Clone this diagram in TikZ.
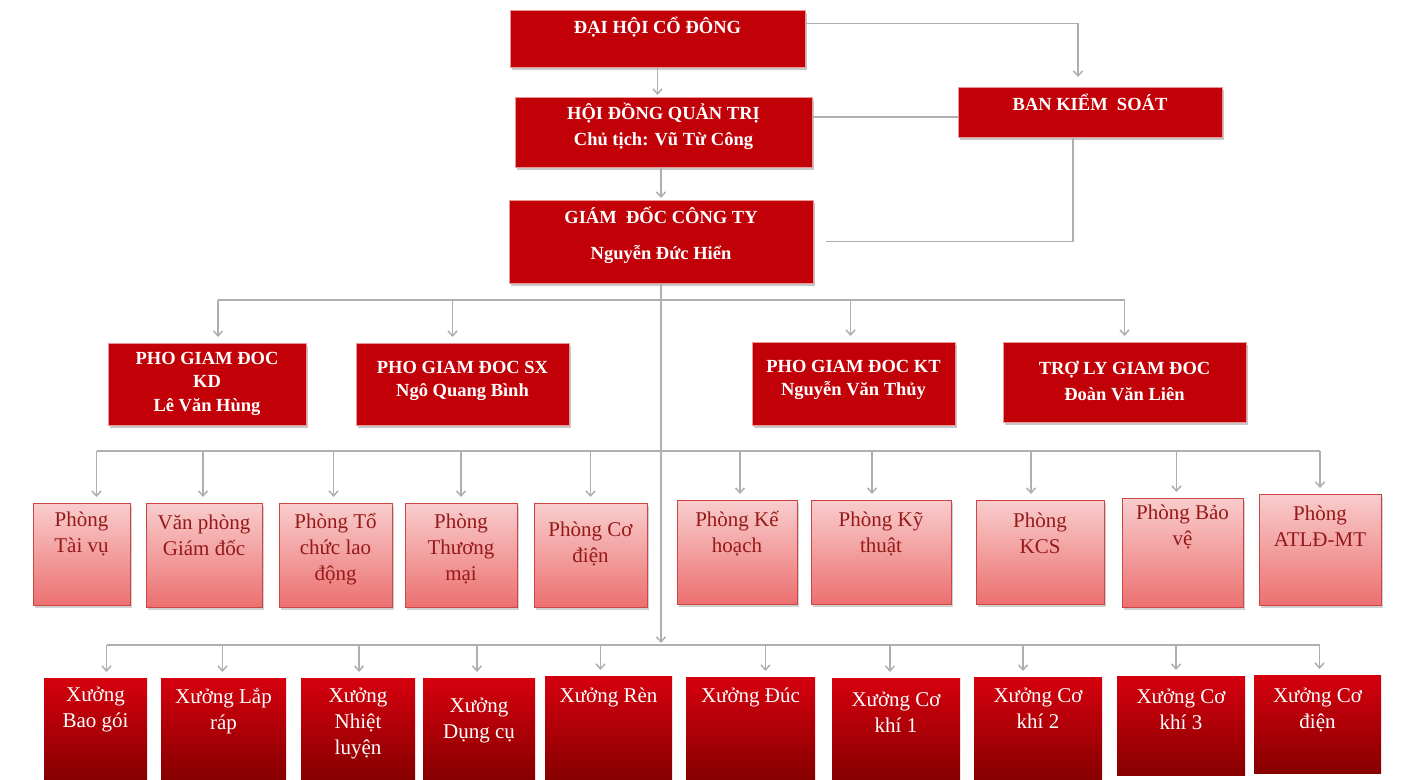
\documentclass[tikz,border=0pt]{standalone}
\usepackage{fontspec}
\setmainfont{Liberation Serif}
\usetikzlibrary{arrows.meta,shadows,calc}
\definecolor{boxred}{RGB}{194,0,8}
\definecolor{topedge}{RGB}{236,150,150}
\definecolor{pinktop}{RGB}{249,205,205}
\definecolor{pinkbot}{RGB}{236,112,112}
\definecolor{pinkedge}{RGB}{205,70,70}
\definecolor{pinktext}{RGB}{150,25,25}
\definecolor{darktop}{RGB}{214,0,14}
\definecolor{darkbot}{RGB}{135,0,0}
\definecolor{conngray}{RGB}{175,175,175}
\begin{document}
\begin{tikzpicture}[x=1pt,y=-1pt,
  topbox/.style={draw=topedge, line width=1pt, fill=boxred, inner sep=0pt, outer sep=0pt,
    drop shadow={shadow xshift=2pt, shadow yshift=-3pt, fill=black, opacity=0.22}},
  pinkbox/.style={draw=pinkedge, line width=1pt, top color=pinktop, bottom color=pinkbot, inner sep=0pt, outer sep=0pt,
    drop shadow={shadow xshift=2pt, shadow yshift=-3pt, fill=black, opacity=0.18}},
  darkbox/.style={draw=none, top color=darktop, bottom color=darkbot, inner sep=0pt, outer sep=0pt},
  toptxt/.style={text=white, align=center, inner sep=0pt, font=\bfseries\fontsize{18.5}{23.5}\selectfont},
  pinktxt/.style={text=pinktext, align=center, inner sep=0pt, font=\fontsize{21}{26}\selectfont},
  darktxt/.style={text=white, align=center, inner sep=0pt, font=\fontsize{21}{26}\selectfont},
  conn/.style={draw=conngray, line width=1.5pt},
  arr/.style={-{Straight Barb[length=5pt,width=9pt]}, shorten >=6pt},
]
\useasboundingbox[fill=white] (0,0) rectangle (1404,779);

% ---------- top level ----------
\node[topbox, minimum width=295pt, minimum height=57pt] (dhcd) at (657.5,38.5) {};
\node[toptxt] (tdhcd) at (657.5,27) {ĐẠI HỘI CỔ ĐÔNG};
\node[topbox, minimum width=297pt, minimum height=70pt] (hdqt) at (663.5,132) {};
\node[toptxt, font=\bfseries\fontsize{18.5}{26}\selectfont] (thdqt) at (663.5,126) {HỘI ĐỒNG QUẢN TRỊ\\Chủ tịch: Vũ Từ Công};
\node[topbox, minimum width=264pt, minimum height=50pt] (bks) at (1090,112) {};
\node[toptxt] (tbks) at (1090,102) {BAN KIỂM~~SOÁT};
\node[topbox, minimum width=304pt, minimum height=83pt] (gd) at (661,241.5) {};
\node[toptxt, font=\bfseries\fontsize{18.5}{36}\selectfont] (tgd) at (661,235) {GIÁM~~ĐỐC CÔNG TY\\Nguyễn Đức Hiển};

% ---------- deputies ----------
\node[topbox, minimum width=198pt, minimum height=82pt] (pgd1) at (207,384) {};
\node[toptxt] (tpgd1) at (207,383.5) {PHO GIAM ĐOC\\KD\\Lê Văn Hùng};
\node[topbox, minimum width=213pt, minimum height=82pt] (pgd2) at (462.5,384) {};
\node[toptxt] (tpgd2) at (462.5,381) {PHO GIAM ĐOC SX\\Ngô Quang Bình};
\node[topbox, minimum width=203pt, minimum height=83pt] (pgd3) at (853.5,383.5) {};
\node[toptxt] (tpgd3) at (853.5,380) {PHO GIAM ĐOC KT\\Nguyễn Văn Thủy};
\node[topbox, minimum width=243pt, minimum height=80pt] (pgd4) at (1124.5,382) {};
\node[toptxt, font=\bfseries\fontsize{18.5}{26}\selectfont] (tpgd4) at (1124.5,381) {TRỢ LY GIAM ĐOC\\Đoàn Văn Liên};

% ---------- departments ----------
\node[pinkbox, minimum width=97pt, minimum height=102pt] (p1) at (81.5,554) {};
\node[pinktxt] (tp1) at (81.5,534) {Phòng\\Tài vụ};
\node[pinkbox, minimum width=116pt, minimum height=104pt] (p2) at (204,555) {};
\node[pinktxt] (tp2) at (204,535) {Văn phòng\\Giám đốc};
\node[pinkbox, minimum width=113pt, minimum height=104pt] (p3) at (335.5,555) {};
\node[pinktxt] (tp3) at (335.5,549) {Phòng Tổ\\chức lao\\động};
\node[pinkbox, minimum width=112pt, minimum height=104pt] (p4) at (461,555) {};
\node[pinktxt] (tp4) at (461,549) {Phòng\\Thương\\mại};
\node[pinkbox, minimum width=113pt, minimum height=104pt] (p5) at (590.5,555) {};
\node[pinktxt] (tp5) at (590.5,544) {Phòng Cơ\\điện};
\node[pinkbox, minimum width=120pt, minimum height=104pt] (p6) at (737,552) {};
\node[pinktxt] (tp6) at (737,534) {Phòng Kế\\hoạch};
\node[pinkbox, minimum width=140pt, minimum height=104pt] (p7) at (881,552) {};
\node[pinktxt] (tp7) at (881,534) {Phòng Kỹ\\thuật};
\node[pinkbox, minimum width=128pt, minimum height=104pt] (p8) at (1040,552) {};
\node[pinktxt] (tp8) at (1040,533) {Phòng\\KCS};
\node[pinkbox, minimum width=121pt, minimum height=109pt] (p9) at (1182.5,552.5) {};
\node[pinktxt] (tp9) at (1182.5,527) {Phòng Bảo\\vệ};
\node[pinkbox, minimum width=122pt, minimum height=111pt] (p10) at (1320,549.5) {};
\node[pinktxt] (tp10) at (1320,526) {Phòng\\ATLĐ-MT};

% ---------- workshops ----------
\node[darkbox, minimum width=103pt, minimum height=101pt] (x1) at (95.5,728.5) {};
\node[darktxt] (tx1) at (95.5,709.5) {Xưởng\\Bao gói};
\node[darkbox, minimum width=125pt, minimum height=101pt] (x2) at (223.5,728.5) {};
\node[darktxt] (tx2) at (223.5,711) {Xưởng Lắp\\ráp};
\node[darkbox, minimum width=114pt, minimum height=101pt] (x3) at (358,728.5) {};
\node[darktxt] (tx3) at (358,724) {Xưởng\\Nhiệt\\luyện};
\node[darkbox, minimum width=112pt, minimum height=101pt] (x4) at (479,728.5) {};
\node[darktxt] (tx4) at (479,720.5) {Xưởng\\Dụng cụ};
\node[darkbox, minimum width=127pt, minimum height=103pt] (x5) at (608.5,727.5) {};
\node[darktxt] (tx5) at (608.5,697) {Xưởng Rèn};
\node[darkbox, minimum width=129pt, minimum height=102pt] (x6) at (750.5,728) {};
\node[darktxt] (tx6) at (750.5,697) {Xưởng Đúc};
\node[darkbox, minimum width=128pt, minimum height=101pt] (x7) at (896,728.5) {};
\node[darktxt] (tx7) at (896,712) {Xưởng Cơ\\khí 1};
\node[darkbox, minimum width=128pt, minimum height=102pt] (x8) at (1038,728) {};
\node[darktxt] (tx8) at (1038,708) {Xưởng Cơ\\khí 2};
\node[darkbox, minimum width=128pt, minimum height=99pt] (x9) at (1181,725.5) {};
\node[darktxt] (tx9) at (1181,709.5) {Xưởng Cơ\\khí 3};
\node[darkbox, minimum width=127pt, minimum height=98pt] (x10) at (1317.5,724) {};
\node[darktxt] (tx10) at (1317.5,709.5) {Xưởng Cơ\\điện};

% ---------- connectors ----------
\coordinate (bus2) at (661,300);
\coordinate (bus3) at (661,451);
\coordinate (bus4) at (661,645);

\draw[conn,arr,shorten >=10pt] ([yshift=15pt]dhcd.east) -| ([xshift=-12pt]bks.north);
\draw[conn,arr,shorten >=2pt] (dhcd.south) -- (dhcd.south |- hdqt.north);
\draw[conn] ([yshift=15pt]hdqt.east) -- ([yshift=15pt]hdqt.east -| bks.west);
\draw[conn,arr,shorten >=2pt] (gd.north |- hdqt.south) -- (gd.north);
\draw[conn,shorten >=13pt] ([xshift=-17pt]bks.south) |- (gd.east);
\draw[conn,arr,shorten >=2pt] (gd.south) -- (bus4);

\draw[conn] ([xshift=11pt]pgd1.north |- bus2) -- (pgd4.north |- bus2);
\foreach \n/\dx in {pgd1/11,pgd2/-10,pgd3/-3,pgd4/0}
  \draw[conn,arr] ([xshift=\dx pt]\n.north |- bus2) -- ([xshift=\dx pt]\n.north);

\draw[conn] ([xshift=15pt]p1.north |- bus3) -- (p10.north |- bus3);
\foreach \n/\dx in {p1/15,p2/-1,p3/-2,p4/0,p5/0,p6/3,p7/-9,p8/-9,p9/-6,p10/0}
  \draw[conn,arr] ([xshift=\dx pt]\n.north |- bus3) -- ([xshift=\dx pt]\n.north);

\draw[conn] ([xshift=11pt]x1.north |- bus4) -- ([xshift=2pt]x10.north |- bus4);
\foreach \n/\dx in {x1/11,x2/-1,x3/1,x4/-2,x5/-8,x6/15,x7/-6,x8/-15,x9/-5,x10/2}
  \draw[conn,arr] ([xshift=\dx pt]\n.north |- bus4) -- ([xshift=\dx pt]\n.north);
\end{tikzpicture}
\end{document}
